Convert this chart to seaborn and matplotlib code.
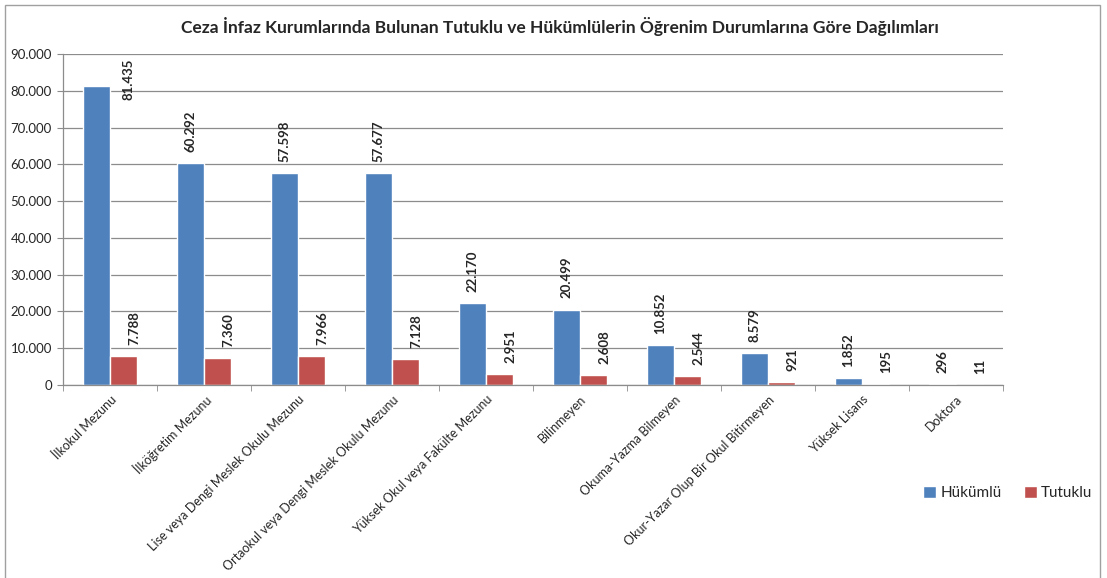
import matplotlib
matplotlib.use("Agg")
import matplotlib.pyplot as plt
import matplotlib.ticker as mticker
from matplotlib.patches import Rectangle, Patch
import pandas as pd
import seaborn as sns

categories = [
    "İlkokul Mezunu",
    "İlköğretim Mezunu",
    "Lise veya Dengi Meslek Okulu Mezunu",
    "Ortaokul veya Dengi Meslek Okulu Mezunu",
    "Yüksek Okul veya Fakülte Mezunu",
    "Bilinmeyen",
    "Okuma-Yazma Bilmeyen",
    "Okur-Yazar Olup Bir Okul Bitirmeyen",
    "Yüksek Lisans",
    "Doktora",
]
hukumlu = [81435, 60292, 57598, 57677, 22170, 20499, 10852, 8579, 1852, 296]
tutuklu = [7788, 7360, 7966, 7128, 2951, 2608, 2544, 921, 195, 11]
series_names = ["Hükümlü", "Tutuklu"]
colors = ["#4F81BD", "#C0504D"]
title = "Ceza İnfaz Kurumlarında Bulunan Tutuklu ve Hükümlülerin Öğrenim Durumlarına Göre Dağılımları"

df = pd.DataFrame({
    "kategori": categories * 2,
    "tur": [series_names[0]] * len(categories) + [series_names[1]] * len(categories),
    "sayi": hukumlu + tutuklu,
})

sns.set_style("white")
plt.rcParams["font.family"] = ["Lato", "DejaVu Sans"]

def tr_fmt(v, pos=None):
    return f"{int(round(v)):,}".replace(",", ".")

fig = plt.figure(figsize=(11.07, 5.78), dpi=100)
ax = fig.add_axes([63 / 1107, 1 - 385 / 578, (1003 - 63) / 1107, (385 - 54) / 578])

sns.barplot(data=df, x="kategori", y="sayi", hue="tur", palette=colors,
            width=0.575, saturation=1, ax=ax, legend=False)

ax.set_ylim(0, 90000)
ax.set_xlim(-0.5, len(categories) - 0.5)
ax.yaxis.set_major_locator(mticker.MultipleLocator(10000))
ax.yaxis.set_major_formatter(mticker.FuncFormatter(tr_fmt))
ax.grid(axis="y", color="#8c8c8c", linewidth=0.9)
ax.set_axisbelow(True)
ax.set_xlabel("")
ax.set_ylabel("")
for side in ["top", "right"]:
    ax.spines[side].set_visible(False)
for side in ["left", "bottom"]:
    ax.spines[side].set_color("#8c8c8c")
    ax.spines[side].set_linewidth(0.9)

ax.tick_params(axis="y", labelsize=9.5, length=4, color="#8c8c8c", left=True, pad=4)
ax.tick_params(axis="x", which="major", length=0, labelsize=9, pad=6)
ax.set_xticks([i - 0.5 for i in range(len(categories) + 1)], minor=True)
ax.tick_params(axis="x", which="minor", length=4, color="#8c8c8c", bottom=True)
plt.setp(ax.get_xticklabels(), rotation=45, ha="right", rotation_mode="anchor")

# value labels, rotated like the original
fig.canvas.draw()
for k, cont in enumerate(ax.containers):
    vals = hukumlu if k == 0 else tutuklu
    for bar, v in zip(cont, vals):
        xc = bar.get_x() + bar.get_width() / 2
        top_px = ax.transData.transform((xc, v))[1]
        ax_top = ax.transData.transform((xc, 90000))[1]
        if top_px + 48 > ax_top:
            ax.annotate(tr_fmt(v), (bar.get_x() + bar.get_width(), 90000),
                        xytext=(13, -3), textcoords="offset points",
                        rotation=90, ha="center", va="top",
                        fontsize=9.5, fontweight="bold")
        else:
            dx = 0 if k == 0 else 8
            ax.annotate(tr_fmt(v), (xc, v), xytext=(dx, 8),
                        textcoords="offset points", rotation=90,
                        ha="center", va="bottom", fontsize=9.5, fontweight="bold")

fig.text(560 / 1107, 1 - 27 / 578, title, ha="center", va="center",
         fontsize=12.5, fontweight="bold")

handles = [Patch(facecolor=c, label=n) for c, n in zip(colors, series_names)]
fig.legend(handles=handles, loc="center", bbox_to_anchor=(1008 / 1107, 1 - 493 / 578),
           ncol=2, frameon=False, fontsize=11, handlelength=0.8, handleheight=0.8,
           handletextpad=0.3, columnspacing=1.5)

fig.patches.append(Rectangle((5 / 1107, -0.05), (1100 - 5) / 1107, 1.05 - 5 / 578,
                             transform=fig.transFigure, fill=False,
                             edgecolor="#a0a0a0", linewidth=1))

fig.savefig("out.png", dpi=100)
